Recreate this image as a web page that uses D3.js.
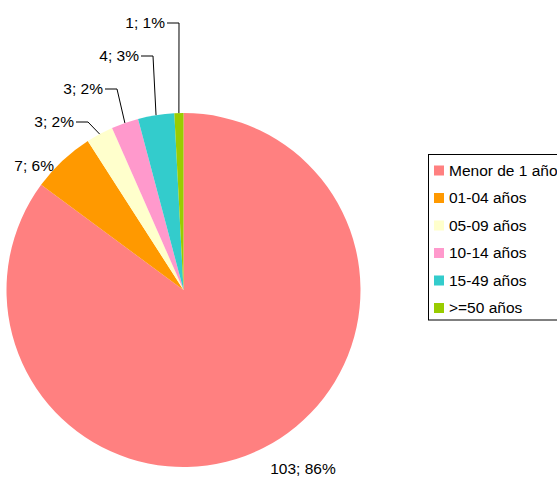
<!DOCTYPE html>
<html><head><meta charset="utf-8">
<script src="https://cdn.jsdelivr.net/npm/d3@7"></script>
<style>body{margin:0;background:#fff}svg{display:block}text{font-family:"Liberation Sans",Arial,sans-serif}</style>
</head><body>
<script>
const categories = ["Menor de 1 año","01-04 años","05-09 años","10-14 años","15-49 años",">=50 años"];
const values = [103, 7, 3, 3, 4, 1];
const labels = ["103; 86%","7; 6%","3; 2%","3; 2%","4; 3%","1; 1%"];
const colors = ["#FF8080","#FF9900","#FFFFCC","#FF99CC","#33CCCC","#99CC00"];

const W = 557, H = 477;
const cx = 183.5, cy = 290, R = 177;
const FS = 15.5;
const svg = d3.select("body").append("svg").attr("width", W).attr("height", H);

const pie = d3.pie().sort(null).value(d => d)(values);
const arc = d3.arc().innerRadius(0).outerRadius(R);
const g = svg.append("g").attr("transform", `translate(${cx},${cy})`);
g.selectAll("path").data(pie).enter().append("path")
  .attr("d", arc).attr("fill", (d, i) => colors[i]);

// label layout: elbow points for leader lines; null = no leader
const elbows = [null, null, [88, 122], [117, 89], [153, 56], [179, 23]];
const labelPlain = [[303, 474, "middle"], [54, 171, "end"]];
pie.forEach((d, i) => {
  const a = (d.startAngle + d.endAngle) / 2;
  const ax = cx + R * Math.sin(a), ay = cy - R * Math.cos(a);
  if (elbows[i]) {
    const [ex, ey] = elbows[i];
    svg.append("polyline")
      .attr("points", `${ax},${ay} ${ex},${ey} ${ex - 12},${ey}`)
      .attr("fill", "none").attr("stroke", "#000").attr("stroke-width", 1);
    svg.append("text").attr("x", ex - 14).attr("y", ey + 5)
      .attr("text-anchor", "end").attr("font-size", FS).text(labels[i]);
  } else {
    const p = labelPlain[i];
    svg.append("text").attr("x", p[0]).attr("y", p[1])
      .attr("text-anchor", p[2]).attr("font-size", FS).text(labels[i]);
  }
});

// legend
const lg = svg.append("g");
lg.append("rect").attr("x", 428.5).attr("y", 154.5).attr("width", 140).attr("height", 165.5)
  .attr("fill", "#fff").attr("stroke", "#000").attr("stroke-width", 1);
const ly = d3.scalePoint().domain(categories).range([170.5, 308]);
categories.forEach((c, i) => {
  lg.append("rect").attr("x", 434).attr("y", ly(c) - 5).attr("width", 10).attr("height", 10)
    .attr("fill", colors[i]);
  lg.append("text").attr("x", 449).attr("y", ly(c) + 5).attr("font-size", FS).text(c);
});
</script>
</body></html>
